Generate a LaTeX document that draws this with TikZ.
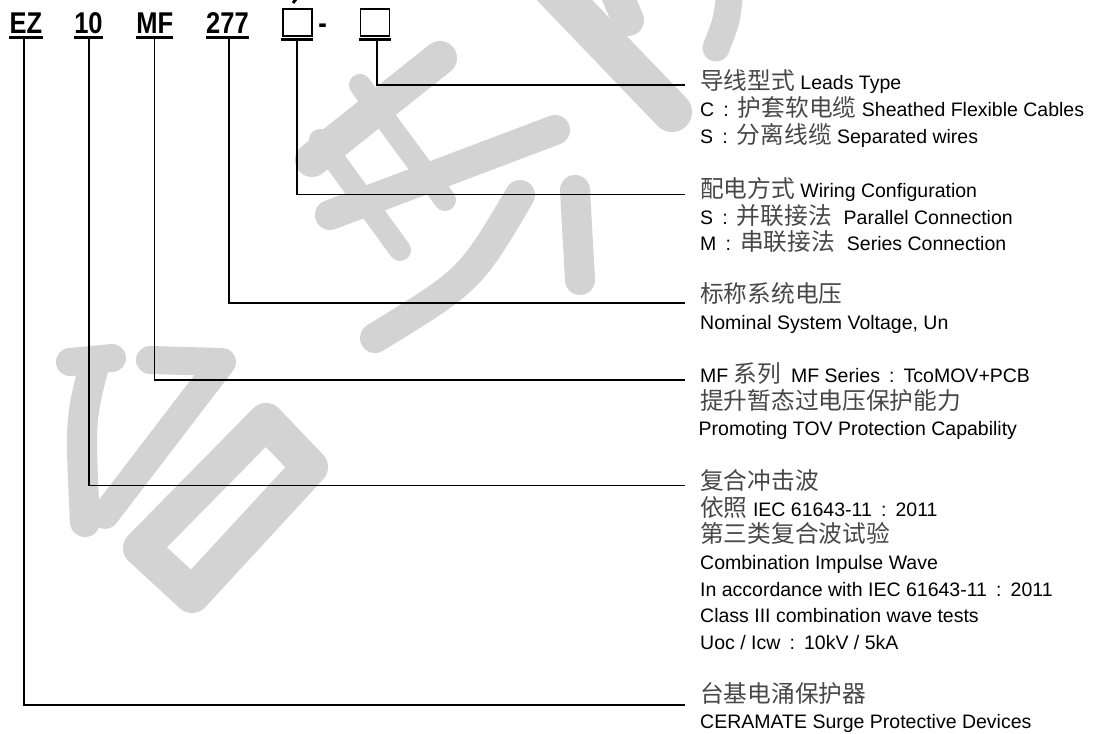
\documentclass[tikz,border=0pt]{standalone}
\usepackage{fontspec}
\usepackage{graphicx}
\setmainfont{Liberation Sans}
\newfontfamily\zhfont{Noto Sans CJK SC}
\newcommand\zh[1]{{\zhfont\fontsize{23.7}{26}\selectfont\color{black!72}#1}}
\newcommand\zc{\makebox[23.7pt][c]{:}}
\newcommand\codetxt[1]{\scalebox{0.85}[1]{\fontsize{30}{32}\selectfont\bfseries #1}}
\definecolor{wmgray}{RGB}{211,211,211}
\tikzset{
  wm/.style={draw=wmgray, line cap=round, line join=round},
  txt/.style={anchor=base west, inner sep=0pt, font=\fontsize{19.5}{22}\selectfont},
  code/.style={anchor=base, inner sep=0pt},
  uline/.style={line width=2.6pt},
  conn/.style={line width=1.9pt},
  codebox/.style={draw, line width=1.3pt, minimum width=29pt, minimum height=27pt, inner sep=0pt},
}
\newcommand\tl[3]{\node[txt] (#1) at (700,#2) {#3};}
\begin{document}
\begin{tikzpicture}[x=1pt,y=-1pt]
\useasboundingbox (0,0) rectangle (1094,733);
\fill[white] (0,0) rectangle (1094,733);
% watermark
\begin{scope}
\clip (0,0) rectangle (1094,733);
\draw[wm, line width=40pt] (550,-15) -- (672,112);
\draw[wm, line width=27pt] (730,-10) .. controls (727,20) .. (716,48);
\draw[wm, line width=32pt] (615,-10) -- (628,20);
\draw[wm, line width=34pt] (440,58) -- (312,160);
\draw[wm, line width=22pt] (360,85) -- (445,200);
\draw[wm, line width=22pt] (320,140) -- (400,250);
\draw[wm, line width=30pt] (330,215) -- (555,130);
\draw[wm, line width=30pt] (520,195) .. controls (470,280) .. (375,338);
\draw[wm, line width=30pt] (575,190) -- (580,280);
\draw[wm, line width=28pt] (70,362) -- (112,358);
\draw[wm, line width=30pt] (95,362) .. controls (80,420) .. (85,522);
\draw[wm, line width=28pt] (150,360) -- (222,362) -- (105,515);
\draw[wm, line width=36pt] (141,548) -- (266,421) -- (310,467) -- (192,595) -- cycle;
\end{scope}
% top code
\node[code] (ez) at (26,33.3) {\codetxt{EZ}};
\node[code] (ten) at (88.5,33.3) {\codetxt{10}};
\node[code] (mf) at (154.7,33.3) {\codetxt{MF}};
\node[code] (volt) at (227.5,33.3) {\codetxt{277}};
\node[codebox] (boxa) at (297.5,22.5) {};
\node[code] (dash) at (322.5,33.3) {\codetxt{-}};
\node[codebox] (boxb) at (374.7,22.5) {};
\draw[line width=3pt] (296,-1) -- (293,3);
% underlines
\coordinate (ezL) at (9,37.7);   \coordinate (ezR) at (43,37.7);
\coordinate (tenL) at (74,37.7); \coordinate (tenR) at (103,37.7);
\coordinate (mfL) at (136,37.7); \coordinate (mfR) at (173,37.7);
\coordinate (vL) at (206,37.7);  \coordinate (vR) at (249,37.7);
\coordinate (baL) at (281,39.5); \coordinate (baR) at (313.3,39.5);
\coordinate (bbL) at (359,39.5); \coordinate (bbR) at (390.7,39.5);
\draw[uline] (ezL) -- (ezR);
\draw[uline] (tenL) -- (tenR);
\draw[uline] (mfL) -- (mfR);
\draw[uline] (vL) -- (vR);
\draw[line width=2.3pt] (baL) -- (baR);
\draw[line width=2.3pt] (bbL) -- (bbR);
% connector start and end points
\coordinate (ezT) at (24,37.7);    \coordinate (ezE) at (685,705);
\coordinate (tenT) at (89,37.7);   \coordinate (tenE) at (685,485.5);
\coordinate (mfT) at (154.5,37.7); \coordinate (mfE) at (685,380);
\coordinate (vT) at (229,37.7);    \coordinate (vE) at (685,303);
\coordinate (baT) at (297,39.5);   \coordinate (baE) at (685,194.5);
\coordinate (bbT) at (377,39.5);   \coordinate (bbE) at (685,85);
\draw[conn] (ezT) |- (ezE);
\draw[conn] (tenT) |- (tenE);
\draw[conn] (mfT) |- (mfE);
\draw[conn] (vT) |- (vE);
\draw[conn] (baT) |- (baE);
\draw[conn] (bbT) |- (bbE);
% texts
\tl{a1}{90}{\zh{导线型式} Leads Type}
\tl{a2}{116.7}{C\zc\zh{护套软电缆} Sheathed Flexible Cables}
\tl{a3}{143.3}{S\zc\zh{分离线缆} Separated wires}
\tl{b1}{197.5}{\zh{配电方式} Wiring Configuration}
\tl{b2}{224}{S\zc\zh{并联接法}\hspace{12pt}Parallel Connection}
\tl{b3}{250.5}{M\zc\zh{串联接法}\hspace{12pt}Series Connection}
\tl{c1}{302.7}{\zh{标称系统电压}}
\tl{c2}{329.3}{Nominal System Voltage, Un}
\tl{d1}{382.7}{MF \zh{系列}\hspace{10pt}MF Series\zc TcoMOV+PCB}
\tl{d2}{409.3}{\zh{提升暂态过电压保护能力}}
\node[txt] (d3) at (698.5,435.7) {Promoting TOV Protection Capability};
\tl{e1}{489.5}{\zh{复合冲击波}}
\tl{e2}{516}{\zh{依照} IEC 61643-11\zc 2011}
\tl{e3}{542.7}{\zh{第三类复合波试验}}
\tl{e4}{569.3}{Combination Impulse Wave}
\tl{e5}{596}{In accordance with IEC 61643-11\zc 2011}
\tl{e6}{622.5}{Class III combination wave tests}
\tl{e7}{649}{Uoc / Icw\zc 10kV / 5kA}
\tl{f1}{702}{\zh{台基电涌保护器}}
\tl{f2}{728.7}{CERAMATE Surge Protective Devices}
\end{tikzpicture}
\end{document}
